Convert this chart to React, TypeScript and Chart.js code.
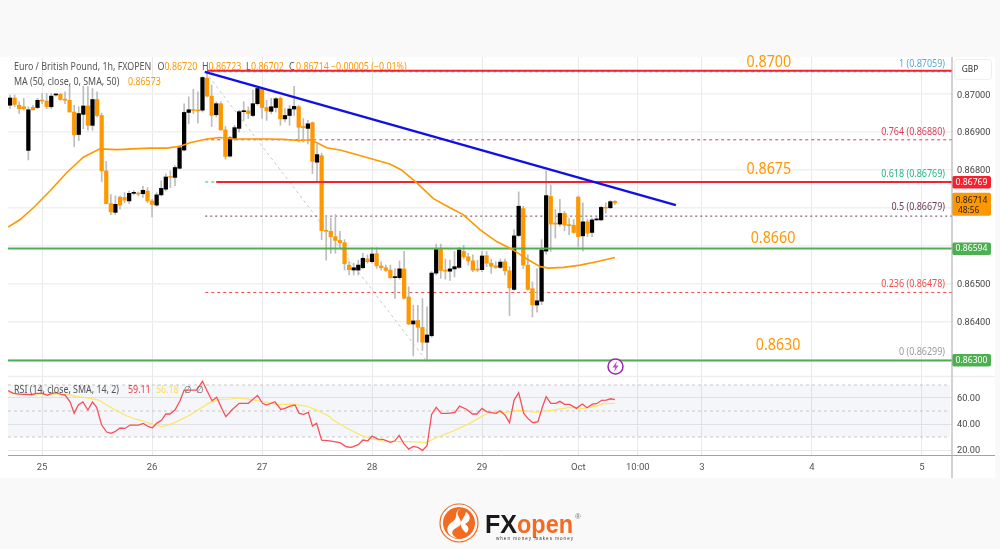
import React, { useEffect, useRef } from "react";
import { Chart, registerables } from "chart.js";

Chart.register(...registerables);

// Hourly candles, prices in 1e-5 GBP points
const opens = [86971,86990,86971,86967,86852,86965,86965,86984,86982,86967,86998,87000,86987,86984,86953,86894,86947,86969,86918,86986,86944,86798,86712,86689,86729,86728,86719,86739,86739,86738,86745,86719,86708,86735,86750,86782,86781,86805,86853,86952,86959,86958,86958,87042,86995,86946,86975,86906,86837,86883,86910,86954,86956,86944,86975,87013,86965,86955,86965,86989,86935,86944,86961,86967,86915,86910,86925,86821,86838,86641,86639,86625,86615,86609,86550,86537,86537,86543,86566,86559,86580,86548,86543,86537,86517,86517,86540,86466,86395,86404,86386,86347,86364,86529,86591,86537,86534,86540,86544,86586,86572,86561,86539,86538,86575,86555,86548,86544,86559,86535,86486,86628,86699,86550,86488,86445,86455,86587,86731,86660,86658,86686,86656,86655,86729,86627,86664,86636,86669,86669,86702,86701,86718];
const closes = [86990,86973,86962,86962,86959,86959,86984,86982,86967,86995,87000,86986,86984,86953,86893,86949,86969,86918,86986,86944,86798,86712,86690,86710,86708,86721,86739,86741,86737,86747,86719,86710,86735,86752,86782,86781,86807,86859,86952,86959,86957,86956,87044,86995,86944,86975,86906,86836,86885,86912,86954,86956,86949,86975,87015,86965,86956,86967,86988,86935,86944,86961,86968,86913,86912,86922,86823,86841,86641,86639,86625,86615,86609,86554,86538,86543,86550,86568,86559,86579,86548,86543,86536,86517,86519,86540,86463,86395,86403,86386,86347,86366,86529,86591,86536,86534,86540,86546,86590,86572,86561,86537,86537,86574,86555,86547,86544,86558,86535,86490,86627,86705,86550,86486,86445,86456,86590,86733,86658,86658,86686,86655,86654,86636,86625,86664,86634,86669,86671,86702,86700,86717,86714];
const highs = [86998,86998,86980,86989,86967,86971,86989,87002,87002,87002,87002,87002,87006,87024,86971,86967,87021,87020,87015,87006,86950,86823,86736,86732,86732,86741,86745,86746,86743,86758,86754,86723,86741,86772,86790,86798,86812,86865,86975,86993,87013,87006,87046,87059,87024,86980,86980,86915,86889,86918,86958,86980,86967,87011,87020,87018,86984,86989,86991,86993,86962,86971,87021,86971,86936,86931,86927,86869,86845,86679,86674,86683,86639,86617,86559,86555,86563,86581,86577,86596,86596,86559,86550,86550,86541,86561,86586,86493,86444,86444,86462,86440,86533,86605,86605,86566,86563,86586,86596,86602,86581,86577,86563,86586,86586,86566,86559,86566,86566,86546,86643,86743,86705,86577,86506,86541,86617,86798,86761,86696,86723,86692,86674,86670,86732,86714,86670,86674,86675,86705,86714,86720,86720];
const lows = [86962,86967,86949,86958,86827,86958,86962,86975,86962,86962,86995,86984,86975,86953,86862,86878,86909,86905,86905,86940,86770,86712,86683,86683,86697,86714,86712,86735,86732,86728,86714,86677,86705,86732,86745,86754,86759,86803,86851,86922,86949,86924,86953,86993,86915,86940,86905,86829,86834,86878,86900,86931,86936,86940,86971,86936,86931,86949,86953,86918,86927,86918,86944,86874,86874,86869,86791,86767,86617,86563,86581,86581,86594,86537,86524,86524,86524,86541,86555,86555,86541,86537,86533,86515,86462,86513,86460,86393,86311,86347,86325,86298,86360,86524,86515,86513,86510,86519,86541,86566,86550,86533,86533,86533,86546,86528,86541,86541,86524,86417,86484,86625,86541,86484,86413,86426,86446,86579,86586,86621,86652,86640,86630,86634,86599,86587,86625,86625,86667,86667,86687,86699,86709];

// 50-period moving average, read at these bar positions
const maBars = [-0.4,2.2,5.1,8.7,12.4,16,19.6,23.3,26.9,30.5,34.2,37.1,39.3,42.9,45.8,48.7,52.4,56,59.6,63.3,65.5,67.2,69.1,72,75.6,79.2,82.9,85.5,88.7,92.4,96,98.9,102.6,106.2,109.8,112.8,115.7,117.5,120.8,124.4,128,132];
const maValues = [86650,86670,86701,86745,86794,86834,86856,86854,86856,86858,86858,86863,86872,86882,86886,86882,86882,86882,86881,86878,86880,86871,86859,86853,86841,86829,86816,86800,86767,86725,86701,86683,86643,86612,86590,86566,86546,86542,86544,86550,86559,86570];

// RSI pane
const rsiBars = [-0.4,0.7,2.2,4.7,5.8,7.1,8.1,9.1,10.2,11.3,12,13.1,14,14.9,15.9,17,18,18.9,20,21.1,22,22.9,24,25.1,26.2,28,29.1,30.2,31.1,32,33.1,34,34.9,36,37.1,38,40.7,42,43.1,44.1,45.1,46.2,47.1,48.4,50,52,54,55.1,56,57.8,59.1,60,61.1,62.2,63.1,64.1,65.1,66,66.9,68,69.8,72,73.4,74.5,76,77,78.1,79,80.3,81.4,83,84,84.9,85.9,87,88,89,90,91,92,93,94.1,95.6,97.1,98.1,99.7,100.9,101.9,103,104,105,106.1,106.9,108,109,110,111,112.1,113,114.1,115.2,116.2,117,118,119.1,120,121,122.1,123.6,124.9,125.9,127.1,128,129.1,130.1,131.1,132];
const rsiValues = [65.6,63.6,63,62.5,63.5,63.5,62,63.5,64.1,62.5,62.3,57.1,48.2,54.6,56.9,50.7,56.9,52.8,39.2,33.8,32.8,34.1,36.9,36.6,39.2,39.2,40.5,37.9,37.1,40.5,43,47.7,47.7,50.7,57.9,66.1,66.1,72.8,64.8,57.9,60.5,52,45.6,50.7,55.9,55.9,62,55.9,54.6,57.1,51.2,52,53.8,54.6,48.2,47.4,48.9,38.4,40.5,27.6,27.1,25.6,22.5,22,24.1,27.7,27.1,30.7,28.4,28.2,25.9,27.1,31.2,25.1,20.7,22.8,22,19.7,23.3,47.4,52.8,48.2,48.2,48.9,53.8,51.2,47.7,47.7,52,49.5,48.7,48.2,50.2,46.9,41,58.4,64.1,48.2,44.3,41,41.8,53.3,61,55.9,55.9,57.4,55.1,55.1,52,55.3,52.5,55.3,55.6,58.2,58.4,59.4,58.7];
const rsiMaBars = [-0.4,2.2,7.1,12.4,14.5,17.5,19.3,21.1,23.3,25.5,27.6,29.1,31.3,33.1,34.9,37.1,39.3,41.5,43.6,45.8,48,50.2,52.4,55.3,58.2,61.8,64.7,66.9,69.8,70.5,73.4,76,78.5,81.4,84.3,87.2,90.9,93,96.7,100.3,103.2,104.7,108.3,111.2,114.9,118.5,122.1,125,128,129.4,132];
const rsiMaValues = [64.6,63,63,63,61,59.7,58.4,54.6,50.2,46.1,43.5,42.3,39.7,37.9,39.7,43,46.9,52,56.4,58.9,59.2,60,58.9,57.1,55.1,55.3,53.8,50.7,45.6,43,37.1,32.3,28.9,27.1,26.4,26.4,25.9,29.4,34.6,40.5,46.4,49.4,48.9,50.7,48.9,50.7,52.8,52,53.8,55.6,55.9];

// Axes
const xTickBars = [7,31,55,79,103,124,137,151,175,199];
const xTickLabels = ["25","26","27","28","29","Oct","10:00","3","4","5"];
const priceTicks = [87000,86900,86800,86700,86600,86500,86400,86300];
const hiddenPriceTicks = [86700,86600,86300];
const rsiTicks = [60,40,20];
const rsiBandLines = [70,50,30];

// Fibonacci retracement levels and drawn levels
const fibRatios = ["1","0.764","0.618","0.5","0.236","0"];
const fibPrices = [87059,86880,86769,86679,86478,86299];
const fibColors = ["#5aa9d6","#d9405a","#22b88c","#6b3a5e","#ef4d4d","#9a9a9a"];
const levelPrices = [87062,86769,86594,86299];
const levelColors = ["#f5222d","#f5222d","#4caf50","#4caf50"];
const levelStartBars = [43,45,-0.44,-0.44];
const callouts = ["0.8700","0.8675","0.8660","0.8630"];
const calloutPrices = [87082,86801,86621,86337];
const calloutBars = [165.6,165.6,166.5,167.6];
const fibDiagonalBars = [42.6,90.8];
const fibDiagonalPrices = [87059,86299];
const trendBars = [42.5,145.3];
const trendPrices = [87059,86708];
const axisBoxes = [
  { price: 86769, text: "0.86769", bg: "#f5222d", fg: "#ffffff" },
  { price: 86594, text: "0.86594", bg: "#4caf50", fg: "#ffffff" },
  { price: 86300, text: "0.86300", bg: "#4caf50", fg: "#ffffff" },
];
const lastPrice = 86714;
const ohlcLabels = ["O", "H", "L", "C"];
const ohlcValues = ["0.86720", "0.86723", "0.86702", "0.86714"];
const ohlcChange = "\u22120.00005 (\u22120.01%)";

const FONT = '"Noto Sans", sans-serif';
const BAR_MIN = -0.44;
const BAR_MAX = 205.56;
const PANE_TOP = 57;
const PANE_SPLIT = 376;
const PANE_BOTTOM = 456;
const AXIS_W = 48;
const orange = "#ff9800";

const seq = (a: number[], b: number[]) => a.map((x, i) => ({ x, y: b[i] }));
const lineDs = (data: any[], color: string, width: number, dash: number[] = [], order = 1) => ({
  type: "line" as const,
  data,
  borderColor: color,
  backgroundColor: color,
  borderWidth: width,
  borderDash: dash,
  pointRadius: 0,
  tension: 0,
  order,
});

// Horizontally condensed text, as in the reference's narrow rendering
const text = (ctx: CanvasRenderingContext2D, s: string, x: number, y: number, color: string, size: number, align: CanvasTextAlign = "left", squeeze = 0.88) => {
  ctx.save();
  ctx.translate(x, y);
  ctx.scale(squeeze, 1);
  ctx.fillStyle = color;
  ctx.font = `${size}px ${FONT}`;
  ctx.textAlign = align;
  ctx.textBaseline = "middle";
  ctx.fillText(s, 0, 0);
  ctx.restore();
};

const mainOverlay = {
  id: "mainOverlay",
  afterDraw(chart: any) {
    const { ctx } = chart;
    const y = chart.scales.y;
    const x = chart.scales.x;
    ctx.save();
    const f = 10.1;
    text(ctx, "Euro / British Pound, 1h, FXOPEN", 14, 67.5, "#555", f);
    const starts = [157.5, 202, 246, 289];
    const valueStarts = [164.5, 208.5, 251, 296];
    ohlcLabels.forEach((l, i) => {
      text(ctx, l, starts[i], 67.5, "#555", f);
      text(ctx, ohlcValues[i], valueStarts[i], 67.5, orange, f);
    });
    text(ctx, ohlcChange, 331, 67.5, orange, f);
    text(ctx, "MA (50, close, 0, SMA, 50)", 14, 82, "#555", f);
    text(ctx, "0.86573", 128, 82, orange, f);

    callouts.forEach((c, i) => {
      text(ctx, c, x.getPixelForValue(calloutBars[i]), y.getPixelForValue(calloutPrices[i]), orange, 15.5, "center", 0.92);
    });
    fibRatios.forEach((r, i) => {
      const py = y.getPixelForValue(fibPrices[i]);
      text(ctx, `${r} (${(fibPrices[i] / 1e5).toFixed(5)})`, 945, py + (i === 3 ? -9 : -8), fibColors[i], 10.2, "right");
    });

    // Session-break marker
    ctx.strokeStyle = "#9c27b0";
    ctx.lineWidth = 1.5;
    ctx.beginPath();
    ctx.arc(615.5, 366.5, 7.5, 0, Math.PI * 2);
    ctx.fillStyle = "#fff";
    ctx.fill();
    ctx.stroke();
    ctx.fillStyle = "#c04fd0";
    ctx.beginPath();
    ctx.moveTo(617, 361); ctx.lineTo(612.5, 367.5); ctx.lineTo(615.2, 367.5);
    ctx.lineTo(614, 372); ctx.lineTo(618.5, 365.5); ctx.lineTo(615.8, 365.5);
    ctx.closePath();
    ctx.fill();

    // Right-axis price boxes
    const r = (bx: number, by: number, w: number, h: number, bg: string) => {
      ctx.fillStyle = bg;
      ctx.beginPath();
      ctx.roundRect(bx, by, w, h, 2);
      ctx.fill();
    };
    axisBoxes.forEach((b) => {
      const py = y.getPixelForValue(b.price);
      r(952, py - 6, 39, 12.5, b.bg);
      text(ctx, b.text, 971.5, py + 0.3, b.fg, 9.8, "center");
    });
    const lp = y.getPixelForValue(lastPrice);
    r(952, lp - 10, 39, 23, orange);
    text(ctx, (lastPrice / 1e5).toFixed(5), 971.5, lp - 3, "#222", 9.8, "center");
    text(ctx, "48:56", 958, lp + 7.5, "#222", 9.5);
    ctx.fillStyle = "#fff";
    ctx.strokeStyle = "#eeeeee";
    ctx.lineWidth = 1;
    ctx.beginPath();
    ctx.roundRect(954.5, 59.5, 37, 20, 3);
    ctx.fill();
    ctx.stroke();
    text(ctx, "GBP", 970, 69.5, "#333", 9.5, "center");
    ctx.restore();
  },
};

const rsiOverlay = {
  id: "rsiOverlay",
  beforeDatasetsDraw(chart: any) {
    const { ctx, scales } = chart;
    const top = scales.y.getPixelForValue(rsiBandLines[0]);
    const bottom = scales.y.getPixelForValue(rsiBandLines[2]);
    ctx.save();
    ctx.fillStyle = "rgba(120,130,170,0.075)";
    ctx.fillRect(8, top, 942, bottom - top);
    ctx.restore();
  },
  afterDraw(chart: any) {
    const { ctx } = chart;
    ctx.save();
    const f = 10.1;
    text(ctx, "RSI (14, close, SMA, 14, 2)", 14, 390, "#555", f);
    text(ctx, "59.11", 128, 390, "#f23645", f);
    text(ctx, "56.18", 156, 390, "#fde047", f);
    text(ctx, "\u2205", 184, 390, "#666", f);
    text(ctx, "\u2205", 196, 390, "#666", f);
    ctx.strokeStyle = "#a3a3a3";
    ctx.lineWidth = 1;
    ctx.beginPath();
    ctx.moveTo(8, 455.5); ctx.lineTo(995, 455.5);
    ctx.stroke();
    ctx.strokeStyle = "#b4b4b4";
    ctx.lineWidth = 1.2;
    ctx.beginPath();
    ctx.moveTo(952, PANE_TOP); ctx.lineTo(952, 478);
    ctx.stroke();
    ctx.strokeStyle = "#eeeef2";
    ctx.lineWidth = 1.5;
    ctx.beginPath();
    ctx.moveTo(8, 376.5); ctx.lineTo(951, 376.5);
    ctx.moveTo(953, 376.5); ctx.lineTo(995, 376.5);
    ctx.stroke();
    ctx.restore();
  },
};

const xAxis = (showLabels: boolean) => ({
  type: "linear" as const,
  offset: false,
  min: BAR_MIN,
  max: BAR_MAX,
  afterBuildTicks(s: any) { s.ticks = xTickBars.map((value) => ({ value })); },
  afterFit(s: any) {
    s.height = showLabels ? 22 : 0;
    s.paddingLeft = s.paddingRight = s.paddingTop = s.paddingBottom = 0;
  },
  grid: { color: "#e9e9e9", lineWidth: 1, drawTicks: false, offset: false },
  border: { display: false },
  ticks: {
    display: showLabels,
    autoSkip: false,
    maxRotation: 0,
    padding: 6,
    color: "#555",
    font: { family: "Roboto", size: 9.5 },
    callback: (v: number) => xTickLabels[xTickBars.indexOf(v)] ?? "",
  },
});

const fitY = (s: any) => {
  s.width = AXIS_W;
  s.paddingLeft = s.paddingRight = s.paddingTop = s.paddingBottom = 0;
};

export default function App() {
  const mainRef = useRef<HTMLCanvasElement>(null);
  const rsiRef = useRef<HTMLCanvasElement>(null);

  useEffect(() => {
    document.body.style.margin = "0";
    const idx = opens.map((_, i) => i);
    const bodyColors = idx.map((i) => (closes[i] >= opens[i] ? "#000000" : orange));
    const fibStart = 42.6;

    const main = new Chart(mainRef.current!, {
      type: "bar",
      data: {
        datasets: [
          ...fibPrices.map((p, i) =>
            lineDs([{ x: fibStart, y: p }, { x: BAR_MAX, y: p }], fibColors[i], 1, i === 3 ? [2, 3] : [3, 3], 5)
          ),
          lineDs(seq(fibDiagonalBars, fibDiagonalPrices), "#c9c9c9", 1, [3, 3], 5),
          {
            type: "bar" as const,
            data: idx.map((i) => ({ x: i, y: [lows[i], highs[i]] })),
            backgroundColor: "#bdbdbd",
            barThickness: 1,
            grouped: false,
            order: 4,
          },
          {
            type: "bar" as const,
            data: idx.map((i) => ({ x: i, y: [opens[i], closes[i]] })),
            backgroundColor: bodyColors,
            barThickness: 3.6,
            minBarLength: 1,
            grouped: false,
            order: 3,
          },
          ...levelPrices.map((p, i) =>
            lineDs([{ x: levelStartBars[i], y: p }, { x: BAR_MAX, y: p }], levelColors[i], 2, [], 2)
          ),
          lineDs(seq(maBars, maValues), orange, 1.6, [], 1),
          lineDs(seq(trendBars, trendPrices), "#1010e6", 2.4, [], 0),
        ] as any,
      },
      options: {
        responsive: false,
        animation: false,
        layout: { padding: { left: 8, top: PANE_TOP, right: 0, bottom: 549 - PANE_SPLIT } },
        plugins: { legend: { display: false }, tooltip: { enabled: false } },
        scales: {
          x: xAxis(false),
          y: {
            position: "right",
            min: 86258,
            max: 87098,
            afterBuildTicks(s: any) { s.ticks = priceTicks.map((value) => ({ value })); },
            afterFit: fitY,
            grid: { color: "#f0f0f2", lineWidth: 1.6, drawTicks: false },
            border: { display: false },
            ticks: {
              autoSkip: false,
              padding: 5,
              labelOffset: 1,
              color: "#444",
              font: { family: "Roboto", size: 9.2 },
              callback: (v: number) => (hiddenPriceTicks.includes(v) ? "" : (v / 1e5).toFixed(5)),
            },
          },
        },
      } as any,
      plugins: [mainOverlay],
    });

    const rsi = new Chart(rsiRef.current!, {
      type: "line",
      data: {
        datasets: [
          ...rsiBandLines.map((v) =>
            lineDs([{ x: BAR_MIN, y: v }, { x: 205, y: v }], "#c8c8c8", 1, [3, 3], 5)
          ),
          lineDs(seq(rsiMaBars, rsiMaValues), "#fde663", 1.2, [], 2),
          lineDs(seq(rsiBars, rsiValues), "#f6505a", 1.3, [], 1),
        ] as any,
      },
      options: {
        responsive: false,
        animation: false,
        layout: { padding: { left: 8, top: PANE_SPLIT, right: 0, bottom: 549 - PANE_BOTTOM - 22 } },
        plugins: { legend: { display: false }, tooltip: { enabled: false } },
        scales: {
          x: xAxis(true),
          y: {
            position: "right",
            min: 15.4,
            max: 76.9,
            afterBuildTicks(s: any) { s.ticks = rsiTicks.map((value) => ({ value })); },
            afterFit: fitY,
            grid: { color: "#e8e8ec", lineWidth: 1, drawTicks: false },
            border: { display: false },
            ticks: {
              autoSkip: false,
              padding: 5,
              labelOffset: 1,
              color: "#444",
              font: { family: "Roboto", size: 9.2 },
              callback: (v: number) => v.toFixed(2),
            },
          },
        },
      } as any,
      plugins: [rsiOverlay],
    });

    return () => {
      main.destroy();
      rsi.destroy();
    };
  }, []);

  const canvasStyle: React.CSSProperties = { position: "absolute", left: 0, top: 0 };
  return (
    <div style={{ position: "absolute", left: 0, top: 0, width: 1000, height: 549, overflow: "hidden", background: "#ffffff" }}>
      <div style={{ position: "absolute", left: 0, top: 0, width: 1000, height: 57, background: "#f9f9f9" }} />
      <div style={{ position: "absolute", left: 0, top: 478, width: 1000, height: 71, background: "#f9f9f9" }} />
      <div style={{ position: "absolute", left: 995, top: 50, width: 5, height: 430, background: "#f9f9f9" }} />
      <canvas ref={mainRef} width={1000} height={549} style={canvasStyle} />
      <canvas ref={rsiRef} width={1000} height={549} style={canvasStyle} />
      <svg width={1000} height={549} style={{ position: "absolute", left: 0, top: 0 }}>
        <circle cx={459} cy={523} r={19} fill="#fff" stroke="#f26b21" strokeWidth={1.2} />
        <circle cx={459} cy={523} r={16} fill="#f26b21" />
        <path d="M462 508 C449 514 470 522 456 528 C450 531 452 536 457 538 C447 537 444 527 452 522 C460 517 452 512 462 508 Z" fill="#fff" />
        <path d="M466 512 C472 516 470 522 465 524 C470 527 469 531 466 533 C462 529 460 526 461 522 C463 518 465 516 466 512 Z" fill="#fff" />
        <text x={485} y={533} fontFamily="Liberation Sans" fontWeight={700} fontSize={26} fill="#1a1a1a" textLength={32} lengthAdjust="spacingAndGlyphs">FX</text>
        <text x={517} y={533} fontFamily="Liberation Sans" fontWeight={700} fontSize={26} fill="#f26b21" textLength={56} lengthAdjust="spacingAndGlyphs">open</text>
        <text x={496} y={539.5} fontFamily="Liberation Sans" fontSize={4.5} fill="#333" textLength={77}>when money makes money</text>
        <text x={575} y={519} fontFamily="Liberation Sans" fontSize={8} fill="#777">®</text>
      </svg>
    </div>
  );
}
